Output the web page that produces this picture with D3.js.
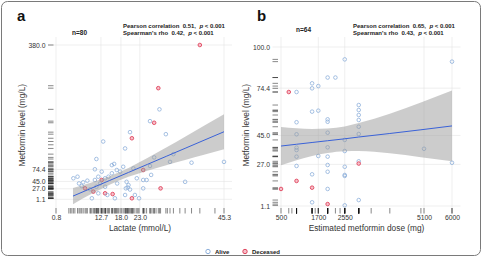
<!DOCTYPE html>
<html>
<head>
<meta charset="utf-8">
<script src="https://cdn.jsdelivr.net/npm/d3@7"></script>
<style>
  body { margin: 0; background: #fff; }
  svg { display: block; }
</style>
</head>
<body>
<div id="chart"></div>
<script>
// ---- panel a: lactate vs metformin level (1 = deceased)
const lactate = [38.9, 27.9, 28.2, 25.7, 26.8, 20.4, 20.9, 29.9, 19.1, 13.3, 45.3, 36.7, 31.9, 31.0, 26.8, 25.7, 23.9, 21.3, 26.0, 35.0,
                 28.5, 23.9, 24.8, 22.2, 23.9, 19.5, 20.0, 19.8, 20.4, 19.3, 20.9, 21.7, 22.8, 19.1, 5.4, 6.5, 8.0, 9.1, 7.6, 8.5,
                 9.8, 11.1, 12.0, 12.9, 11.1, 11.5, 15.6, 16.2, 14.7, 12.9, 13.8, 15.6, 16.9, 17.8, 18.6, 12.0, 10.3, 13.8, 14.4, 15.8,
                 16.4, 11.5, 13.8, 10.7, 17.0, 6.9, 12.5];
const levelA = [380, 274, 222, 193, 189, 166, 151, 161, 126, 143, 93, 91, 112, 93, 104, 83, 73, 77, 61, 44,
                28, 48.5, 48.5, 52.7, 28, 44, 36, 30, 25, 28, 3.6, 11.7, 3.6, 11.7, 52.7, 56.6, 42.9, 46.8, 33.8, 28,
                25.7, 48.5, 56.6, 69, 74.8, 100, 85, 88, 56.6, 48.5, 52.7, 65, 73, 69, 81, 15.8, 3.6, 15.8, 11.7, 14,
                3.6, 32, 32, 20, 40, 40, 40];
const deadA = [1, 1, 0, 0, 1, 0, 1, 0, 0, 0, 0, 0, 0, 0, 0, 0, 1, 0, 0, 0,
               1, 0, 0, 0, 0, 0, 0, 0, 0, 0, 1, 0, 0, 0, 0, 0, 0, 0, 0, 1,
               0, 0, 0, 0, 0, 0, 0, 0, 0, 1, 0, 0, 0, 0, 0, 0, 0, 1, 0, 1,
               0, 0, 0, 1, 0, 0, 0];
// rug marks whose points are hidden or overlap in the plot
const rugExtraLactate = [0.8, 4.2, 4.6, 5.0, 5.8, 7.2, 8.8, 10.0, 11.8, 13.0, 14.0, 15.0, 16.6, 17.4, 18.2, 19.7, 21.0,
                         22.5, 24.3, 26.5, 27.3, 30.3, 33.6, 42.9];
const rugExtraLevelA = [280, 135, 18, 9, 6];
const fitLactate = [5.3, 10, 15, 20, 25, 30, 35, 40, 45.3];
const fitA = [9, 27.6, 47.3, 67.1, 86.8, 106.6, 126.3, 146.1, 167];
const loA = [-11, 13.2, 36.9, 56.2, 71.3, 85, 97.9, 110.7, 124];
const hiA = [29, 42, 57.7, 78, 102.3, 128.2, 154.7, 181.5, 210];
const xTicksA = [0.8, 12.7, 18.0, 23.0, 45.3];
const yTicksA = [1.1, 27.0, 45.0, 74.4, 380.0];

// ---- panel b: metformin dose vs metformin level
const dose = [2550, 2000, 2250, 1500, 1500, 1700, 750, 1000, 1500, 1700, 2000, 2000, 1000, 1000, 2000, 2550, 3000, 3000, 3000, 3000,
              3000, 3000, 1000, 1000, 1000, 1700, 2000, 2000, 2550, 1000, 2000, 2550, 2550, 2550, 3000, 3000, 1500, 2000, 1000, 500,
              1500, 2000, 1500, 2000, 2550, 3000, 6000, 6000, 5100];
const levelB = [92.3, 81, 81, 77.4, 74.3, 75.7, 72, 72, 59.8, 60.4, 55, 53.5, 53.2, 45.7, 46.7, 42.2, 63.9, 60.8, 57.7, 54.6,
                50.4, 45.9, 37.4, 35.9, 31.8, 32.2, 37.6, 31.8, 35.3, 26, 26.6, 25.5, 20.4, 19.8, 28.9, 27.5, 20.8, 22.4, 16.7, 11.7,
                12.5, 11.7, 3.4, 2.3, 1.5, 4.8, 90.9, 28, 36.7];
const deadB = [0, 0, 0, 0, 0, 0, 1, 0, 0, 0, 0, 0, 0, 0, 0, 0, 0, 0, 0, 0,
               0, 0, 0, 0, 0, 0, 0, 0, 0, 0, 0, 0, 0, 0, 0, 1, 0, 0, 1, 1,
               1, 0, 0, 1, 0, 0, 0, 0, 0];
const rugExtraDose = [850, 1600, 2400, 3400, 4000, 5000];
const rugExtraLevelB = [];
const fitDose = [500, 1000, 1500, 2000, 2550, 3000, 4000, 5000, 6000];
const fitB = [38.4, 39.5, 40.6, 41.7, 42.9, 44.0, 46.2, 48.5, 50.9];
const loB = [26.5, 29.6, 32.2, 34.1, 35.2, 35.3, 33.9, 31.5, 28.9];
const hiB = [50.3, 49.4, 49.0, 49.3, 50.6, 52.7, 58.5, 65.5, 72.9];
const xTicksB = [500, 1700, 2550, 5100, 6000];
const yTicksB = [1.1, 27.0, 45.0, 74.4, 100.0];

const theme = {
  font: "'Liberation Sans', Arial, Helvetica, sans-serif",
  grid: "#e4e4e4",
  alive: "#8eb0db",
  dead: "#e0455e",
  deadFill: "#f6c0ca",
  band: "#999999",
  line: "#3a62d8",
  text: "#222"
};

const svg = d3.select("#chart").append("svg")
  .attr("width", 482)
  .attr("height", 256)
  .style("font-family", theme.font);

svg.append("rect")
  .attr("x", 1.5).attr("y", 1.5)
  .attr("width", 479).attr("height", 254)
  .attr("rx", 6)
  .attr("fill", "#fff")
  .attr("stroke", "#7a7a7a")
  .attr("stroke-width", 1);

function drawPanel(p) {
  const box = p.box;
  const g = svg.append("g");
  const x = d3.scaleLinear().domain(p.xDomain).range(p.xRange);
  const y = d3.scaleLinear().domain(p.yDomain).range(p.yRange);

  // grid lines at the labelled values
  g.append("g").selectAll("line")
    .data(p.xTicks)
    .join("line")
    .attr("x1", d => x(d)).attr("x2", d => x(d))
    .attr("y1", box.top).attr("y2", box.bottom)
    .attr("stroke", theme.grid).attr("stroke-width", 0.6);
  g.append("g").selectAll("line")
    .data(p.yTicks)
    .join("line")
    .attr("x1", box.left).attr("x2", box.right)
    .attr("y1", d => y(d)).attr("y2", d => y(d))
    .attr("stroke", theme.grid).attr("stroke-width", 0.6);

  // points
  const pts = p.xs.map((v, i) => ({ x: v, y: p.ys[i], dead: p.dead[i] }));
  g.append("g").selectAll("circle")
    .data(pts)
    .join("circle")
    .attr("cx", d => x(d.x))
    .attr("cy", d => y(d.y))
    .attr("r", 1.8)
    .attr("fill", d => d.dead ? theme.deadFill : "none")
    .attr("stroke", d => d.dead ? theme.dead : theme.alive)
    .attr("stroke-width", d => d.dead ? 0.9 : 0.8);

  // confidence band + fitted line
  const band = p.fitX.map((v, i) => ({ x: v, fit: p.fit[i], lo: p.lo[i], hi: p.hi[i] }));
  g.append("path")
    .datum(band)
    .attr("d", d3.area().x(d => x(d.x)).y0(d => y(d.lo)).y1(d => y(d.hi)).curve(d3.curveMonotoneX))
    .attr("fill", theme.band)
    .attr("fill-opacity", 0.5);
  g.append("path")
    .datum(band)
    .attr("d", d3.line().x(d => x(d.x)).y(d => y(d.fit)))
    .attr("fill", "none")
    .attr("stroke", theme.line)
    .attr("stroke-width", 1);

  // rugs
  const rugLen = 5.5;
  g.append("g").selectAll("line")
    .data(p.xs.concat(p.rugX))
    .join("line")
    .attr("x1", d => x(d)).attr("x2", d => x(d))
    .attr("y1", box.bottom - rugLen).attr("y2", box.bottom)
    .attr("stroke", "#111").attr("stroke-width", 0.5);
  g.append("g").selectAll("line")
    .data(p.ys.concat(p.rugY))
    .join("line")
    .attr("x1", box.left).attr("x2", box.left + rugLen)
    .attr("y1", d => y(d)).attr("y2", d => y(d))
    .attr("stroke", "#111").attr("stroke-width", 0.5);

  // axes (labels only)
  const xAxis = g.append("g")
    .attr("transform", `translate(0,${box.bottom})`)
    .call(d3.axisBottom(x).tickValues(p.xTicks).tickSize(0).tickPadding(2).tickFormat(p.xFormat));
  const yAxis = g.append("g")
    .attr("transform", `translate(${box.left},0)`)
    .call(d3.axisLeft(y).tickValues(p.yTicks).tickSize(0).tickPadding(2.5).tickFormat(d3.format(".1f")));
  [xAxis, yAxis].forEach(a => {
    a.select(".domain").remove();
    a.attr("font-family", theme.font).attr("font-size", 6.8);
    a.selectAll("text").attr("fill", "#333");
  });

  // axis titles
  g.append("text")
    .attr("x", (box.left + box.right) / 2)
    .attr("y", 230.5)
    .attr("text-anchor", "middle")
    .attr("font-size", 8.3)
    .attr("fill", "#333")
    .text(p.xTitle);
  g.append("text")
    .attr("transform", `translate(${box.left - 23.5},${(box.top + box.bottom) / 2}) rotate(-90)`)
    .attr("text-anchor", "middle")
    .attr("font-size", 8.3)
    .attr("fill", "#333")
    .text("Metformin level (mg/L)");

  // panel letter, n and correlations
  g.append("text")
    .attr("x", p.letterX).attr("y", 21)
    .attr("font-size", 15).attr("font-weight", "bold")
    .attr("fill", "#111")
    .text(p.letter);
  g.append("text")
    .attr("x", p.nX).attr("y", p.nY)
    .attr("text-anchor", "middle")
    .attr("font-size", 6.5).attr("font-weight", "bold")
    .attr("fill", theme.text)
    .text(p.nText);

  const stats = g.append("g")
    .attr("font-size", 6).attr("font-weight", "bold")
    .attr("fill", theme.text);
  p.stats.forEach((s, i) => {
    const t = stats.append("text")
      .attr("x", p.statX)
      .attr("y", 28 + i * 7)
      .attr("xml:space", "preserve");
    t.append("tspan").text(`${s[0]}  ${s[1]},  `);
    t.append("tspan").attr("font-style", "italic").text("p");
    t.append("tspan").text(" < 0.001");
  });
}

drawPanel({
  letter: "a", letterX: 17,
  box: { left: 48, right: 232, top: 37, bottom: 213.5 },
  xDomain: [0.8, 45.3], xRange: [56, 224],
  yDomain: [1.1, 380], yRange: [199.3, 45],
  xs: lactate, ys: levelA, dead: deadA,
  rugX: rugExtraLactate, rugY: rugExtraLevelA,
  fitX: fitLactate, fit: fitA, lo: loA, hi: hiA,
  xTicks: xTicksA, yTicks: yTicksA, xFormat: d3.format(".1f"),
  xTitle: "Lactate (mmol/L)",
  nText: "n=80", nX: 79.5, nY: 35,
  statX: 123,
  stats: [["Pearson correlation", "0.51"], ["Spearman's rho", "0.42"]]
});

drawPanel({
  letter: "b", letterX: 257,
  box: { left: 272.5, right: 460.5, top: 37, bottom: 213.5 },
  xDomain: [500, 6000], xRange: [281, 452],
  yDomain: [1.1, 100], yRange: [206, 47],
  xs: dose, ys: levelB, dead: deadB,
  rugX: rugExtraDose, rugY: rugExtraLevelB,
  fitX: fitDose, fit: fitB, lo: loB, hi: hiB,
  xTicks: xTicksB, yTicks: yTicksB, xFormat: d3.format("d"),
  xTitle: "Estimated metformin dose (mg)",
  nText: "n=64", nX: 303.5, nY: 32,
  statX: 353,
  stats: [["Pearson correlation", "0.65"], ["Spearman's rho", "0.43"]]
});

// legend
const legendItems = [
  { label: "Alive", color: theme.alive, fill: "none", x: 208 },
  { label: "Deceased", color: theme.dead, fill: theme.deadFill, x: 245 }
];
const legend = svg.append("g").attr("font-size", 6).attr("font-weight", "bold").attr("fill", theme.text);
legend.selectAll("circle")
  .data(legendItems)
  .join("circle")
  .attr("cx", d => d.x).attr("cy", 251.5).attr("r", 2.2)
  .attr("fill", d => d.fill).attr("stroke", d => d.color).attr("stroke-width", 1);
legend.selectAll("text")
  .data(legendItems)
  .join("text")
  .attr("x", d => d.x + 7).attr("y", 253.6)
  .text(d => d.label);
</script>
</body>
</html>
